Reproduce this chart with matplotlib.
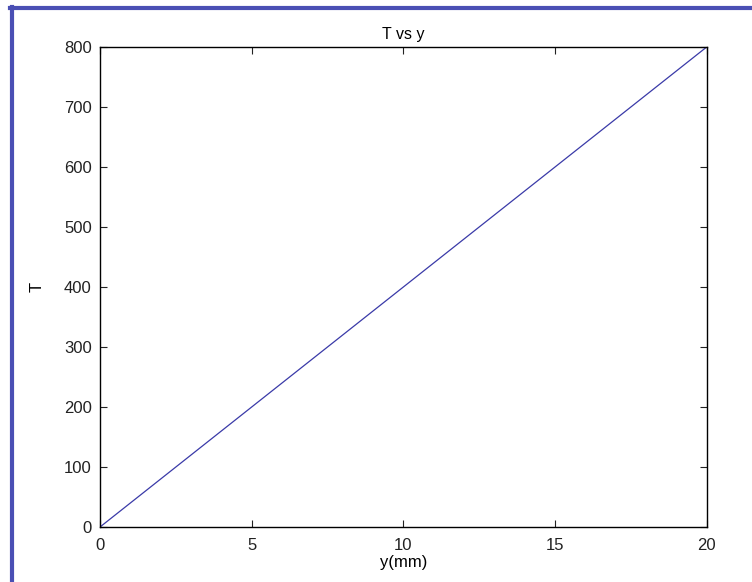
import matplotlib.pyplot as plt
from matplotlib.lines import Line2D

plt.rcParams['font.family'] = ['Liberation Sans', 'DejaVu Sans']

# data
y_mm = [0, 5, 10, 15, 20]
T = [0, 200, 400, 600, 800]
xticks = [0, 5, 10, 15, 20]
yticks = [0, 100, 200, 300, 400, 500, 600, 700, 800]

fig = plt.figure(figsize=(7.52, 5.82), dpi=100)
ax = fig.add_axes([0.133, 0.0945, 0.807, 0.825])

ax.plot(y_mm, T, color='#3a3aa8', lw=0.9)
ax.set_xlim(0, 20)
ax.set_ylim(0, 800)
ax.set_xticks(xticks)
ax.set_yticks(yticks)
ax.tick_params(direction='in', top=True, right=True, length=5, width=0.8,
               labelsize=12, colors='#222222')
ax.tick_params(axis='x', pad=8)
ax.tick_params(axis='y', pad=6)
for s in ax.spines.values():
    s.set_linewidth(1.0)
ax.set_xlabel('y(mm)', fontsize=12, labelpad=1)
ax.set_ylabel('T', fontsize=12, labelpad=14)
ax.set_title('T vs y', fontsize=11.5, pad=6)

# blue frame of the screenshot (left and top edges visible)
fig.add_artist(Line2D([0.0155, 0.0155], [0, 0.988], transform=fig.transFigure,
                      color='#4a4fb4', lw=3))
fig.add_artist(Line2D([0.0135, 1.0], [0.987, 0.987], transform=fig.transFigure,
                      color='#4a4fb4', lw=3))

fig.savefig('out.png', dpi=100)
